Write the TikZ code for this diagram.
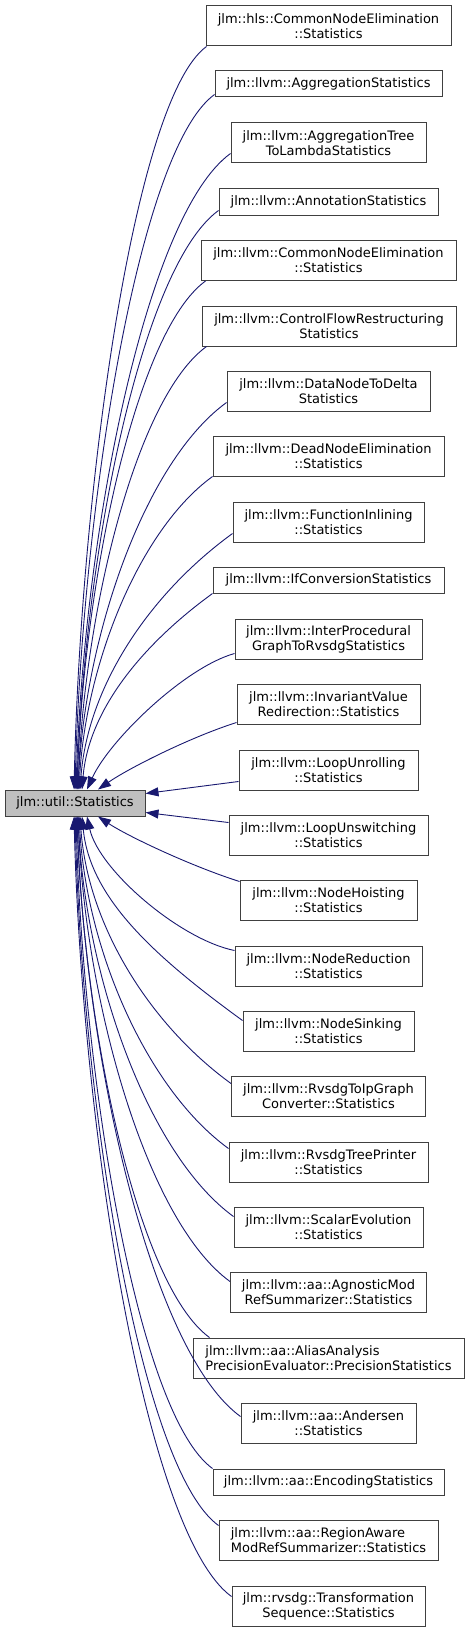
\documentclass[tikz,border=0pt]{standalone}
\usepackage{fontspec}
\setmainfont{DejaVu Sans}
\usetikzlibrary{arrows.meta,calc}
\definecolor{edgeblue}{HTML}{191970}
\definecolor{boxline}{HTML}{404040}
\definecolor{basefill}{HTML}{BFBFBF}
\newcommand\cedge[6]{\draw[edge] let \p1=#1,\p2=#2,\n1={\x1-\x2},\n2={\y1-\y2} in (\p1) .. controls ({\x1-#3*\n1},{\y1-#4*\n1}) and ({\x2+#6*\n1},{\y2+#5*\n2}) .. (\p2);}
\begin{document}
\begin{tikzpicture}[x=1pt,y=-1pt,
  every node/.style={font=\fontsize{13}{15}\selectfont},
  cls/.style={draw=boxline, line width=1pt, fill=white, inner sep=0pt, align=center},
  two/.style={minimum height=40pt},
  one/.style={minimum height=26pt},
  edge/.style={draw=edgeblue, line width=0.9pt, -{Triangle[length=13pt,width=9pt]}}]
\useasboundingbox (0,0) rectangle (469,1632);
\node[cls, fill=basefill, one, minimum width=140pt] (base) at (75,803) {jlm::util::Statistics};
\node[cls, two, minimum width=245pt] (n1) at (328.5,26) {jlm::hls::CommonNodeElimination\\::Statistics};
\node[cls, one, minimum width=227pt] (n2) at (328.5,84) {jlm::llvm::AggregationStatistics};
\node[cls, two, minimum width=195pt] (n3) at (328.5,143) {jlm::llvm::AggregationTree\\ToLambdaStatistics};
\node[cls, one, minimum width=219pt] (n4) at (328.5,202) {jlm::llvm::AnnotationStatistics};
\node[cls, two, minimum width=255pt] (n5) at (328.5,260.5) {jlm::llvm::CommonNodeElimination\\::Statistics};
\node[cls, two, minimum width=254pt] (n6) at (329,326) {jlm::llvm::ControlFlowRestructuring\\Statistics};
\node[cls, two, minimum width=203pt] (n7) at (328.5,391) {jlm::llvm::DataNodeToDelta\\Statistics};
\node[cls, two, minimum width=231pt] (n8) at (328.5,456) {jlm::llvm::DeadNodeElimination\\::Statistics};
\node[cls, two, minimum width=191pt] (n9) at (328.5,522) {jlm::llvm::FunctionInlining\\::Statistics};
\node[cls, one, minimum width=231pt] (n10) at (328.5,580) {jlm::llvm::IfConversionStatistics};
\node[cls, two, minimum width=187pt] (n11) at (328.5,639) {jlm::llvm::InterProcedural\\GraphToRvsdgStatistics};
\node[cls, two, minimum width=183pt] (n12) at (328.5,704) {jlm::llvm::InvariantValue\\Redirection::Statistics};
\node[cls, two, minimum width=179pt] (n13) at (328.5,770) {jlm::llvm::LoopUnrolling\\::Statistics};
\node[cls, two, minimum width=199pt] (n14) at (328.5,835) {jlm::llvm::LoopUnswitching\\::Statistics};
\node[cls, two, minimum width=177pt] (n15) at (328.5,900) {jlm::llvm::NodeHoisting\\::Statistics};
\node[cls, two, minimum width=187pt] (n16) at (328.5,966) {jlm::llvm::NodeReduction\\::Statistics};
\node[cls, two, minimum width=171pt] (n17) at (328.5,1031) {jlm::llvm::NodeSinking\\::Statistics};
\node[cls, two, minimum width=194pt] (n18) at (328.5,1096) {jlm::llvm::RvsdgToIpGraph\\Converter::Statistics};
\node[cls, two, minimum width=199pt] (n19) at (328.5,1162) {jlm::llvm::RvsdgTreePrinter\\::Statistics};
\node[cls, two, minimum width=189pt] (n20) at (328.5,1227) {jlm::llvm::ScalarEvolution\\::Statistics};
\node[cls, two, minimum width=196pt] (n21) at (328.5,1292) {jlm::llvm::aa::AgnosticMod\\RefSummarizer::Statistics};
\node[cls, two, minimum width=271pt, align=left] (n22) at (328.5,1358) {jlm::llvm::aa::AliasAnalysis\\PrecisionEvaluator::PrecisionStatistics};
\node[cls, two, minimum width=175pt] (n23) at (328.5,1423) {jlm::llvm::aa::Andersen\\::Statistics};
\node[cls, one, minimum width=231pt] (n24) at (328.5,1482) {jlm::llvm::aa::EncodingStatistics};
\node[cls, two, minimum width=219pt, align=left] (n25) at (328.5,1540) {jlm::llvm::aa::RegionAware\\ModRefSummarizer::Statistics};
\node[cls, two, minimum width=193pt] (n26) at (328.5,1606) {jlm::rvsdg::Transformation\\Sequence::Statistics};
% upper edges
\cedge{([xshift=1pt]n1.south west)}{([xshift=-1pt]base.north)}{0.55}{0.4}{0.4}{0.05}
\cedge{([yshift=3pt]n2.south west)}{(base.north)}{0.55}{0.4}{0.4}{0.05}
\cedge{([yshift=10pt]n3.south west)}{([xshift=1pt]base.north)}{0.55}{0.4}{0.4}{0.05}
\cedge{([yshift=5pt]n4.south west)}{([xshift=2pt]base.north)}{0.55}{0.4}{0.4}{0.05}
\cedge{([xshift=5pt]n5.south west)}{([xshift=2pt]base.north)}{0.55}{0.4}{0.4}{0.05}
\cedge{([xshift=5pt]n6.south west)}{([xshift=3pt]base.north)}{0.55}{0.4}{0.4}{0.05}
\cedge{([yshift=9pt]n7.south west)}{([xshift=3pt]base.north)}{0.55}{0.4}{0.4}{0.05}
\cedge{(n8.south west)}{([xshift=4pt]base.north)}{0.55}{0.4}{0.4}{0.05}
\cedge{([yshift=9pt]n9.south west)}{([xshift=5pt]base.north)}{0.55}{0.4}{0.4}{0.05}
\cedge{(n10.south west)}{([xshift=7pt]base.north)}{0.55}{0.4}{0.4}{0.05}
\cedge{([yshift=6pt]n11.south west)}{([xshift=12pt]base.north)}{0.34}{0.095}{0.36}{0.15}
\cedge{([yshift=2pt]n12.south west)}{([xshift=23pt]base.north)}{0.34}{0.108}{0.31}{0.216}
\draw[edge] ([yshift=9pt]n13.south west) -- ([yshift=9.5pt]base.east);
\draw[edge] ([yshift=-8pt]n14.north west) -- ([yshift=-9.5pt]base.east);
% lower edges
\cedge{([yshift=-2pt]n15.north west)}{([xshift=23pt]base.south)}{0.34}{-0.108}{0.31}{0.216}
\cedge{([yshift=-5pt]n16.north west)}{([xshift=12pt]base.south)}{0.37}{-0.075}{0.4}{0.08}
\cedge{([yshift=-10pt]n17.north west)}{([xshift=7pt]base.south)}{0.55}{-0.4}{0.4}{0.05}
\cedge{([yshift=-8pt]n18.north west)}{([xshift=5pt]base.south)}{0.55}{-0.4}{0.4}{0.05}
\cedge{([yshift=-7pt]n19.north west)}{([xshift=4pt]base.south)}{0.55}{-0.4}{0.4}{0.05}
\cedge{([yshift=-10pt]n20.north west)}{([xshift=3pt]base.south)}{0.55}{-0.4}{0.4}{0.05}
\cedge{([yshift=-10pt]n21.north west)}{([xshift=3pt]base.south)}{0.55}{-0.4}{0.4}{0.05}
\cedge{([xshift=17pt]n22.north west)}{([xshift=2pt]base.south)}{0.55}{-0.4}{0.4}{0.05}
\cedge{([yshift=-14pt]n23.north west)}{([xshift=2pt]base.south)}{0.55}{-0.4}{0.4}{0.05}
\cedge{(n24.north west)}{([xshift=1pt]base.south)}{0.55}{-0.4}{0.4}{0.05}
\cedge{([yshift=-6pt]n25.north west)}{(base.south)}{0.55}{-0.4}{0.4}{0.05}
\cedge{([yshift=-11pt]n26.north west)}{([xshift=-1pt]base.south)}{0.55}{-0.4}{0.4}{0.05}
\end{tikzpicture}
\end{document}
